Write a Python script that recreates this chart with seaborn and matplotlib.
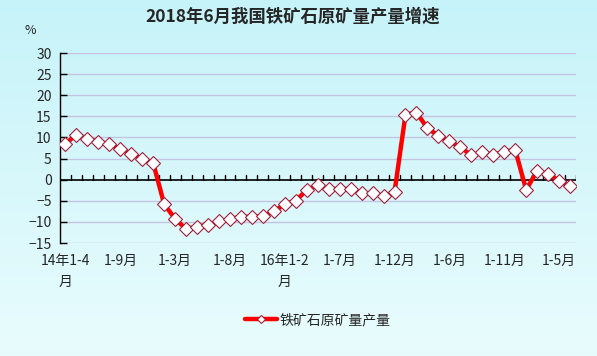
import numpy as np
import pandas as pd
import seaborn as sns
import matplotlib.pyplot as plt
from matplotlib.colors import LinearSegmentedColormap
import matplotlib.transforms as mtransforms

# monthly cumulative growth (%), 2014 1-4 ... 2018 1-6
periods = (["2014 1-%d" % m for m in range(4, 13)] +
           ["2015 1-%d" % m for m in range(2, 13)] +
           ["2016 1-%d" % m for m in range(2, 13)] +
           ["2017 1-%d" % m for m in range(2, 13)] +
           ["2018 1-%d" % m for m in range(2, 7)])
growth = [8.5, 10.7, 9.7, 9.0, 8.4, 7.3, 6.2, 4.9, 3.9,
          -5.8, -9.3, -11.7, -11.1, -10.7, -9.9, -9.3, -8.8, -8.8, -8.6, -7.5,
          -5.8, -5.0, -2.4, -1.3, -2.2, -2.2, -2.2, -3.2, -3.2, -3.9, -2.9,
          15.4, 15.9, 12.2, 10.4, 9.1, 7.7, 5.8, 6.5, 5.9, 6.6, 7.1,
          -2.4, 2.1, 1.3, -0.2, -1.6]
tick_pos = [0, 5, 10, 15, 20, 25, 30, 35, 40, 45]
tick_labels = ["14年1-4\n月", "1-9月", "1-3月", "1-8月", "16年1-2\n月",
               "1-7月", "1-12月", "1-6月", "1-11月", "1-5月"]

df = pd.DataFrame({"idx": range(len(growth)), "val": growth, "period": periods})

sns.set_theme(style="white")
plt.rcParams['font.family'] = ['Noto Sans CJK SC', 'DejaVu Sans']

fig = plt.figure(figsize=(5.97, 3.56), dpi=100)

# background gradient
bg = fig.add_axes([0, 0, 1, 1], zorder=-10)
cmap = LinearSegmentedColormap.from_list("bg", ["#c6f3f9", "#e9fcfd"])
bg.imshow(np.linspace(0, 1, 256).reshape(-1, 1), aspect="auto", cmap=cmap,
          extent=[0, 1, 0, 1])
bg.axis("off")

ax = fig.add_axes([0.1005, 0.3174, 0.8635, 0.5336])
ax.set_facecolor("none")

for y in [-15, -10, -5, 5, 10, 15, 20, 25, 30]:
    ax.axhline(y, color="#c4c4e2", lw=1, zorder=0)
ax.axhline(0, color="black", lw=1.2, zorder=1)

sns.lineplot(data=df, x="idx", y="val", ax=ax, color="#ff0000", lw=3.2,
             marker="D", markersize=6.8, markerfacecolor="white",
             markeredgecolor="#a0203a", markeredgewidth=0.8,
             label="铁矿石原矿量产量", zorder=3)

ax.set_xlim(-0.5, 46.5)
ax.set_ylim(-15, 30)
ax.set_yticks(range(-15, 31, 5))
ax.set_yticklabels([str(v) if v >= 0 else "\u2212" + str(-v) for v in range(-15, 31, 5)],
                   fontsize=10)
ax.tick_params(axis="y", direction="in", length=5, width=1, color="black", left=True, pad=6)
ax.set_xticks([])
ax.set_xlabel("")
ax.set_ylabel("")
for s in ["top", "right", "bottom"]:
    ax.spines[s].set_visible(False)
ax.spines["left"].set_color("black")
ax.spines["left"].set_linewidth(1)

# category ticks on the zero line
for i in range(len(growth)):
    ax.plot([i + 0.5, i + 0.5], [0, 1.1], color="black", lw=1, zorder=1)

trans = mtransforms.blended_transform_factory(ax.transData, ax.transAxes)
for p, lab in zip(tick_pos, tick_labels):
    ax.text(p, -0.06, lab, transform=trans, ha="center", va="top", fontsize=10,
            linespacing=1.6)

leg = ax.legend(loc="center", bbox_to_anchor=(0.50, -0.405), frameon=False,
                fontsize=10, handlelength=2.3, handletextpad=0.15)
for h in leg.legend_handles:
    h.set_markersize(4)

fig.text(0.49, 0.953, "2018年6月我国铁矿石原矿量产量增速", ha="center", va="center",
         fontsize=12.5, fontweight="bold")
fig.text(0.05, 0.915, "%", ha="center", va="center", fontsize=9)

fig.savefig("out.png", dpi=100)
